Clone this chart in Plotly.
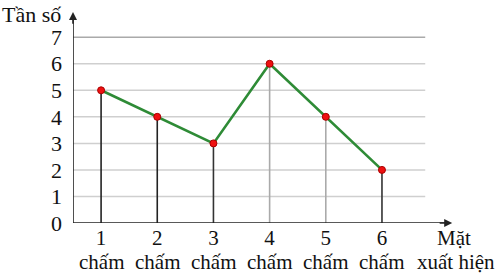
import plotly.graph_objects as go

categories = [1, 2, 3, 4, 5, 6]
tick_labels = ["1", "2", "3", "4", "5", "6"]
tick_unit = "chấm"
values = [5, 4, 3, 6, 4, 2]
y_ticks = [0, 1, 2, 3, 4, 5, 6, 7]
drop_colors = ["#222", "#222", "#333", "#aaa", "#aaa", "#333"]

FONT = "Liberation Serif, Times New Roman, serif"
X0, XR, XE = 0.5, 6.77, 7.3
YT = 7.95

fig = go.Figure()

shapes = []
for y in y_ticks[1:]:
    shapes.append(dict(type="line", xref="x", yref="y", x0=X0, x1=XR, y0=y, y1=y,
                       line=dict(color="#aaa" if y == 7 else "#cfcfcf", width=1.5), layer="below"))
for c, v, col in zip(categories, values, drop_colors):
    shapes.append(dict(type="line", xref="x", yref="y", x0=c, x1=c, y0=0, y1=v,
                       line=dict(color=col, width=1.6), layer="below"))
# axes
shapes.append(dict(type="line", xref="x", yref="y", x0=X0, x1=XE - 0.1, y0=0, y1=0,
                   line=dict(color="#222", width=1.6)))
shapes.append(dict(type="line", xref="x", yref="y", x0=X0, x1=X0, y0=0, y1=YT - 0.1,
                   line=dict(color="#222", width=1.6)))

fig.add_trace(go.Scatter(x=categories, y=values, mode="lines+markers",
                         line=dict(color="#2e8b36", width=2.6),
                         marker=dict(color="#ee1111", size=7, line=dict(color="#a00", width=1)),
                         hoverinfo="skip"))

annotations = [
    dict(x=XE - 0.05, y=0, ax=XE - 0.3, ay=0, xref="x", yref="y", axref="x", ayref="y",
         showarrow=True, arrowhead=2, arrowsize=1, arrowwidth=1.6, arrowcolor="#222", text=""),
    dict(x=X0, y=YT, ax=X0, ay=YT - 0.5, xref="x", yref="y", axref="x", ayref="y",
         showarrow=True, arrowhead=2, arrowsize=1, arrowwidth=1.6, arrowcolor="#222", text=""),
    dict(x=0, y=1, xref="paper", yref="paper", xanchor="left", yanchor="top",
         text="Tần số", showarrow=False, font=dict(family=FONT, size=22, color="#111"),
         xshift=-73, yshift=12),
    dict(x=XE - 0.1, y=0, xref="x", yref="y", xanchor="center", yanchor="middle",
         text="Mặt", showarrow=False,
         font=dict(family=FONT, size=21, color="#111"), yshift=-15, xshift=5),
    dict(x=XE - 0.08, y=0, xref="x", yref="y", xanchor="center", yanchor="middle",
         text="xuất hiện", showarrow=False,
         font=dict(family=FONT, size=21, color="#111"), yshift=-39, xshift=5),
]
for c in categories:
    annotations.append(dict(x=c, y=0, xref="x", yref="y", xanchor="center", yanchor="middle",
                            text=tick_unit, showarrow=False,
                            font=dict(family=FONT, size=21, color="#111"), yshift=-39))

fig.update_layout(
    width=500, height=275,
    margin=dict(l=73, r=45, t=12, b=52, autoexpand=False),
    paper_bgcolor="white", plot_bgcolor="white",
    showlegend=False,
    shapes=shapes, annotations=annotations,
    xaxis=dict(range=[X0, XE], tickvals=categories, ticktext=tick_labels, automargin=False,
               showgrid=False, zeroline=False, showline=False, ticks="",
               tickfont=dict(family=FONT, size=21, color="#111")),
    yaxis=dict(range=[0, YT], tickvals=y_ticks, showgrid=False, zeroline=False, automargin=False,
               showline=False, ticks="", ticklabelstandoff=10,
               tickfont=dict(family=FONT, size=22, color="#111")),
)

fig.write_html("out.html")
